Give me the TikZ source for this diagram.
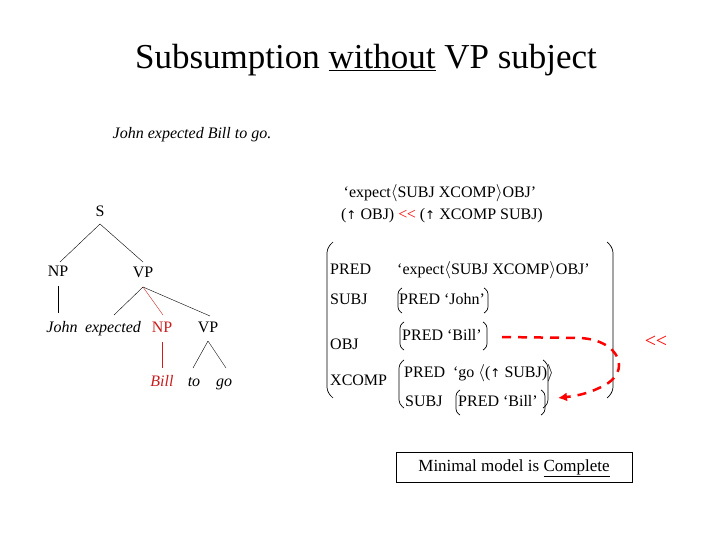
\documentclass[tikz,border=0pt]{standalone}
\usepackage{fontspec}
\setmainfont{Liberation Serif}
\newfontfamily\symf{DejaVu Sans}
\usetikzlibrary{arrows.meta}
\newcommand{\upa}{{\symf\fontsize{12}{14}\selectfont ↑}}
\newcommand{\lan}{$\langle$}
\newcommand{\ran}{$\rangle$}
\newcommand{\ltlt}{{<}\kern-0.5pt{<}}
\begin{document}
\begin{tikzpicture}[x=1pt,y=-1pt,
  t/.style={font=\fontsize{16}{18}\selectfont,inner sep=0pt,text height=11pt,text depth=3pt},
  ti/.style={t,font=\fontsize{16}{18}\selectfont\itshape},
  br/.style={line width=0.7pt,rounded corners=5pt},
  redc/.style={color={rgb,255:red,200;green,30;blue,30}}]
\useasboundingbox (0,0) rectangle (720,540);
\node[inner sep=0pt,font=\fontsize{35}{38}\selectfont] (title) at (366,60) {Subsumption \underline{without} VP subject};
\node[ti] (ex) at (192,135) {John expected Bill to go.};
% tree
\node[t] (S) at (100,212) {S};
\node[t] (NP1) at (58,272) {NP};
\node[t] (VP1) at (143,273) {VP};
\node[ti] (john) at (62,328) {John};
\node[ti] (exp) at (113,328) {expected};
\node[t,redc] (NP2) at (162,328) {NP};
\node[t] (VP2) at (208,328) {VP};
\node[ti,redc] (bill) at (162,382) {Bill};
\node[ti] (to) at (194,382) {to};
\node[ti] (go) at (224,382) {go};
\draw (100,224) -- (60,262) (100,224) -- (143,262);
\draw (58,286) -- (58,313);
\draw (143,287) -- (114,315) (143,287) -- (210,316);
\draw[redc] (143,287) -- (163,315);
\draw[redc] (162,342) -- (162,368);
\draw (208,341) -- (193,368) (208,341) -- (226,368);
% top right
\node[t] (e1) at (440,193) {`expect\lan SUBJ XCOMP\ran OBJ'};
\node[t] (e2) at (442,215) {(\upa\ OBJ) {\color{red}\ltlt} (\upa\ XCOMP SUBJ)};
% big bracket
\draw[br] (333,242) -- (327,248) -- (327,392) -- (333,398);
\draw[br] (607,242) -- (613,248) -- (613,392) -- (607,398);
\node[t,anchor=west] (p1) at (330,270) {PRED};
\node[t,anchor=west] (p1v) at (397,270) {`expect\lan SUBJ XCOMP\ran OBJ'};
\node[t,anchor=west] (s1) at (330,300) {SUBJ};
\node[t,anchor=west] (s1v) at (399,300) {PRED `John'};
\draw[br,rounded corners=3pt] (402,288) -- (398,291) -- (398,310) -- (402,313);
\draw[br,rounded corners=3pt] (484,288) -- (488,291) -- (488,310) -- (484,313);
\node[t,anchor=west] (o1) at (330,345) {OBJ};
\node[t,anchor=west] (o1v) at (402,336) {PRED `Bill'};
\draw[br,rounded corners=3pt] (404,322) -- (400,325) -- (400,347) -- (404,350);
\draw[br,rounded corners=3pt] (483,322) -- (487,325) -- (487,347) -- (483,350);
\node[t,anchor=west] (x1) at (330,381) {XCOMP};
\draw[br,rounded corners=4pt] (404,360) -- (399,364) -- (399,404) -- (404,408);
\draw[br,rounded corners=4pt] (543,360) -- (548,364) -- (548,404) -- (543,408);
\node[t,anchor=west] (p2) at (404,373) {PRED\ \ `go \lan(\upa\ SUBJ)\ran};
\node[t,anchor=west] (s2) at (405,402) {SUBJ};
\node[t,anchor=west] (s2v) at (458,402) {PRED `Bill'};
\draw[br,rounded corners=3pt] (460,390) -- (456,393) -- (456,412) -- (460,415);
\draw[br,rounded corners=3pt] (541,390) -- (545,393) -- (545,412) -- (541,415);
\coordinate (a0) at (502,337);
\coordinate (a1) at (558,398);
\draw[red,line width=2.5pt,dash pattern=on 9pt off 7pt,-{Latex[length=9pt,width=9pt]}]
  (a0) -- (580,338) .. controls (620,340) and (632,372) .. (603,386) .. controls (588,394) and (575,396) .. (a1);
\node[t,red,font=\fontsize{20}{22}\selectfont] (ll) at (656,343) {\ltlt};
% box
\node[t,draw,line width=0.9pt,minimum width=236pt,minimum height=30pt,font=\fontsize{17}{19}\selectfont] (box) at (514,467) {Minimal model is \underline{Complete}};
\end{tikzpicture}
\end{document}
